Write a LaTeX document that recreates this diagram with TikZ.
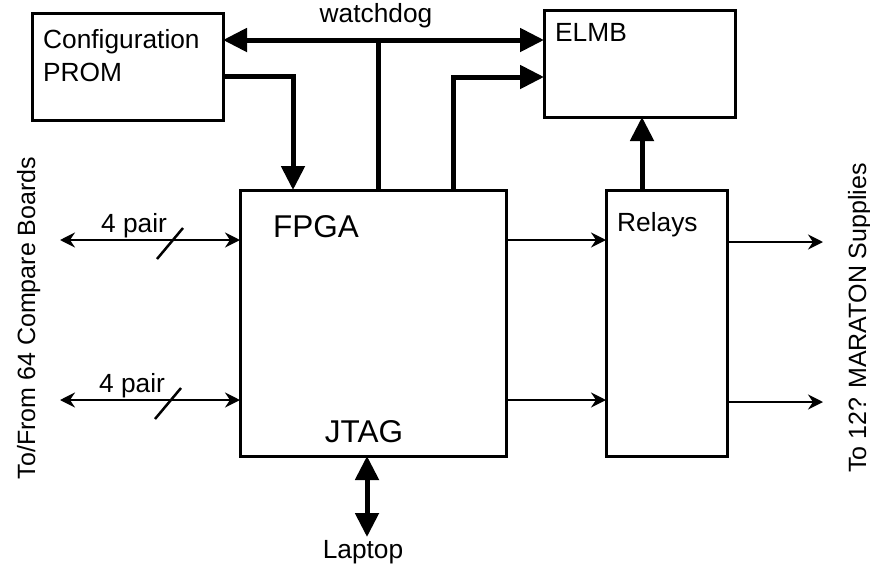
\documentclass[tikz,border=0pt]{standalone}
\usepackage{fontspec}
\setmainfont{Liberation Sans}
\usetikzlibrary{arrows.meta,fit}

\begin{document}
\begin{tikzpicture}[x=1pt,y=-1pt,
  box/.style={draw, line width=3pt, inner sep=0pt, outer sep=0pt},
  lbl/.style={inner sep=0pt, font=\fontsize{26.3}{31}\selectfont},
  sidelbl/.style={inner sep=0pt, font=\fontsize{25}{30}\selectfont, rotate=90},
  biglbl/.style={inner sep=0pt, font=\fontsize{31.5}{37}\selectfont},
  bus/.style={line width=5pt, -{Triangle[length=24pt,width=23pt]}},
  busline/.style={line width=5pt},
  sig/.style={line width=2.5pt, -{Stealth[length=15pt,width=15pt,inset=5pt]}},
  bisig/.style={line width=2.5pt, {Stealth[length=15pt,width=15pt,inset=5pt]}-{Stealth[length=15pt,width=15pt,inset=5pt]}},
  tick/.style={line width=2.5pt}]
\useasboundingbox (0,0) rectangle (870,565);

% blocks
\node[box, fit={(32,13) (223,120)}] (prom) {};
\node[box, fit={(544,10) (735,117)}] (elmb) {};
\node[box, fit={(240,190) (506,456)}] (fpga) {};
\node[box, fit={(606,190) (727,456)}] (relays) {};

% block titles
\node[lbl, anchor=base west] (promA) at (43,48) {Configuration};
\node[lbl, anchor=base west] (promB) at (43,81) {PROM};
\node[lbl, anchor=base west] (elmbT) at (555,41) {ELMB};
\node[biglbl, anchor=base west] (fpgaT) at (273,237) {FPGA};
\node[biglbl, anchor=base] (jtagT) at (364,442) {JTAG};
\node[lbl, anchor=base west] (relT) at (617,231) {Relays};

% watchdog bus between PROM and ELMB, tapped from the FPGA
\node[lbl, anchor=base] (wdT) at (376,22) {watchdog};
\draw[bus, {Triangle[length=24pt,width=23pt]}-{Triangle[length=24pt,width=23pt]}]
  (prom.east |- 0,40) -- (elmb.west |- 0,40);
\coordinate (wd) at (378,40);
\draw[busline] (wd) -- (wd |- fpga.north);

% configuration path PROM -> FPGA
\draw[bus] (prom.east |- 0,76) -| (fpga.north -| 293,0);

% FPGA -> ELMB
\draw[bus] (fpga.north -| 453,0) |- (elmb.west |- 0,77);

% Relays -> ELMB
\draw[bus] (relays.north -| 642,0) -- (elmb.south -| 642,0);

% FPGA -> Relays
\draw[sig] (fpga.east |- 0,240) -- (relays.west |- 0,240);
\draw[sig] (fpga.east |- 0,400) -- (relays.west |- 0,400);

% Relays -> supplies
\coordinate (outA) at (823,242);
\coordinate (outB) at (823,402);
\draw[sig] (relays.east |- outA) -- (outA);
\draw[sig] (relays.east |- outB) -- (outB);

% compare board links
\coordinate (inA) at (60,240);
\coordinate (inB) at (60,400);
\draw[bisig] (inA) -- (fpga.west |- inA);
\draw[bisig] (inB) -- (fpga.west |- inB);
\draw[tick] (157,259) -- (183,228);
\draw[tick] (155,419) -- (181,388);
\node[lbl, anchor=base west] (pairA) at (101,232) {4 pair};
\node[lbl, anchor=base west] (pairB) at (99,392) {4 pair};

% JTAG <-> laptop
\node[lbl, anchor=base] (laptop) at (363,558) {Laptop};
\coordinate (lap) at (367,537);
\draw[busline, {Triangle[length=24pt,width=23pt]}-{Triangle[length=24pt,width=23pt]}]
  (fpga.south -| lap) -- (lap);

% side captions
\node[sidelbl, anchor=base] (leftT) at (35,318) {To/From 64 Compare Boards};
\node[sidelbl, anchor=base] (rightT) at (866,318) {To 12? MARATON Supplies};
\end{tikzpicture}
\end{document}
